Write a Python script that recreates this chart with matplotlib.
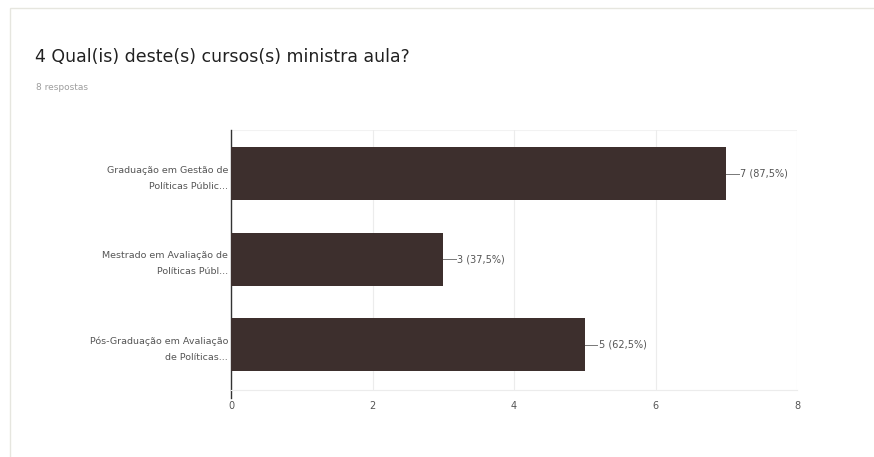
import matplotlib.pyplot as plt
from matplotlib.patches import Rectangle

categories = [
    "Graduação em Gestão de\nPolíticas Públic...",
    "Mestrado em Avaliação de\nPolíticas Públ...",
    "Pós-Graduação em Avaliação\nde Políticas...",
]
counts = [7, 3, 5]
percents = ["87,5%", "37,5%", "62,5%"]
x_ticks = [0, 2, 4, 6, 8]
title = "4 Qual(is) deste(s) cursos(s) ministra aula?"
subtitle = "8 respostas"

BAR_COLOR = "#3d2f2d"
W, H = 874, 457

fig = plt.figure(figsize=(W / 100, H / 100), dpi=100)
fig.patch.set_facecolor("white")

# card outline (runs off the bottom and right edges)
fig.patches.append(Rectangle((10 / W, -0.1), 1.2, 1.1 - 8 / H, transform=fig.transFigure,
                             fill=False, edgecolor="#e6e6df", linewidth=1.0))

fig.text(35 / W, 1 - 62 / H, title, fontsize=12.5, color="#212121", va="baseline")
fig.text(36 / W, 1 - 90 / H, subtitle, fontsize=6.5, color="#9e9e9e", va="baseline")

ax = fig.add_axes([231 / W, 1 - 390 / H, (797 - 231) / W, (390 - 130) / H])
ypos = list(range(len(categories)))
ax.barh(ypos, counts, height=0.62, color=BAR_COLOR, zorder=3)

ax.set_xlim(0, 8)
ax.set_ylim(2.53, -0.51)
ax.set_xticks(x_ticks)
ax.set_xticklabels([str(t) for t in x_ticks], fontsize=7, color="#555555")
ax.set_yticks(ypos)
ax.set_yticklabels(categories, fontsize=6.8, color="#555555", linespacing=2.0)
ax.tick_params(axis="both", length=0)
ax.tick_params(axis="x", pad=8)
ax.tick_params(axis="y", pad=2)
ax.grid(axis="x", color="#ececec", linewidth=0.8, zorder=0)

for s in ["top", "right"]:
    ax.spines[s].set_visible(False)
ax.spines["bottom"].set_color("#ececec")
ax.spines["left"].set_color("#333333")
ax.spines["left"].set_linewidth(1.0)
ax.spines["left"].set_bounds(2.62, -0.51)
ax.axhline(-0.51, color="#f2f2f2", linewidth=0.8, zorder=0)

for y, c, p in zip(ypos, counts, percents):
    ax.plot([c, c + 0.18], [y, y], color="#777777", linewidth=0.7, zorder=4, clip_on=False)
    ax.text(c + 0.2, y, f"{c} ({p})", fontsize=7, color="#555555", va="center", ha="left")

fig.savefig("out.png", dpi=100)
